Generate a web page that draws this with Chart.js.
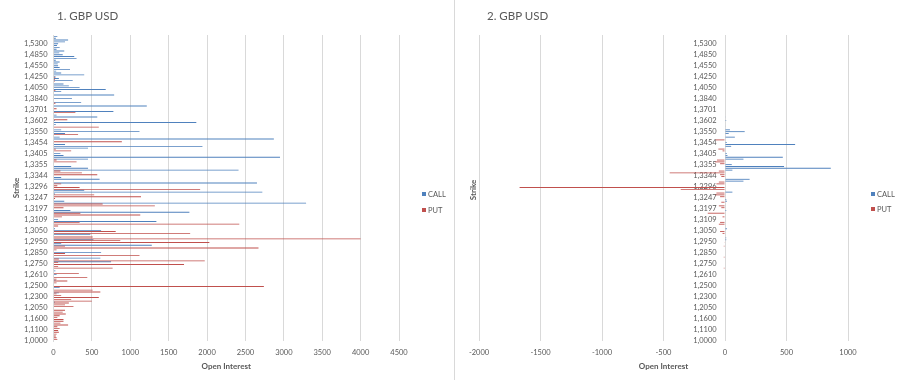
<!DOCTYPE html>
<html>
<head>
<meta charset="utf-8">
<script src="https://cdn.jsdelivr.net/npm/chart.js@4.4.1/dist/chart.umd.min.js"></script>
<style>
  html, body { margin: 0; padding: 0; background: #ffffff; }
  #wrap { position: relative; width: 900px; height: 380px; overflow: hidden; background: #fff; font-family: Lato, "Open Sans", sans-serif; color: #595959; }
  canvas { position: absolute; top: 0; }
  #c1 { left: 0; }
  #c2 { left: 454px; }
  .sep { position: absolute; left: 454px; top: 0; width: 1px; height: 380px; background: #d9d9d9; }
  .title { position: absolute; font-size: 11.5px; line-height: 14px; white-space: nowrap; }
  .leg { position: absolute; font-size: 7.5px; line-height: 9px; white-space: nowrap; }
  .leg i { display: inline-block; width: 4px; height: 4px; margin-right: 2px; vertical-align: 1px; }
  .ytitle { position: absolute; font-size: 8px; font-weight: bold; line-height: 10px; transform: rotate(-90deg); transform-origin: center center; white-space: nowrap; }
</style>
</head>
<body>
<div id="wrap">
  <canvas id="c1" width="452" height="380"></canvas>
  <canvas id="c2" width="446" height="380"></canvas>
  <div class="sep"></div>
  <div class="title" id="t1" style="left:57px; top:9px;"></div>
  <div class="title" id="t2" style="left:487px; top:9px;"></div>
  <div class="ytitle" id="ys2" style="left:458px; top:185px; width:30px; text-align:center;"></div>
  <div class="leg" style="left:422px; top:190px;"><i style="background:#4F81BD"></i><span class="lc"></span></div>
  <div class="leg" style="left:422px; top:206px;"><i style="background:#C0504D"></i><span class="lp"></span></div>
  <div class="leg" style="left:871px; top:189.5px;"><i style="background:#4F81BD"></i><span class="lc"></span></div>
  <div class="leg" style="left:871px; top:205px;"><i style="background:#C0504D"></i><span class="lp"></span></div>
</div>
<script>
// ---------------- data ----------------
const chartTitles = ["1. GBP USD", "2. GBP USD"];
const seriesNames = ["CALL", "PUT"];
const axisTitleX = "Open Interest";
const axisTitleY = "Strike";

// visible strike labels (top to bottom); one label every 6 categories
const strikeTicks = ["1,5300","1,4850","1,4550","1,4250","1,4050","1,3840","1,3701","1,3602",
  "1,3550","1,3454","1,3405","1,3355","1,3344","1,3296","1,3247","1,3197","1,3109","1,3050",
  "1,2950","1,2850","1,2750","1,2610","1,2500","1,2300","1,2050","1,1600","1,1100","1,0000"];
const categoriesPerTick = 6;
const hiddenTop = 4;

// Chart 1 (values top to bottom, 167 strikes)
const call1 = [
  50,30,190,150,60,45,80,40,140,75,
  120,270,300,30,80,55,60,80,215,35,
  100,400,25,70,250,0,130,200,340,680,
  100,0,790,0,240,0,360,0,1215,0,
  0,780,0,40,570,0,20,1860,30,0,
  0,100,1120,150,0,80,2870,0,0,150,
  1940,450,0,0,90,130,2950,450,0,0,
  0,230,450,2410,0,0,0,100,600,0,
  2650,0,0,0,400,2720,20,0,0,0,
  140,3290,0,0,0,220,1770,0,0,0,
  60,1340,0,0,0,20,620,0,480,0,
  0,520,0,100,1280,0,0,0,620,0,
  0,610,0,750,0,0,0,0,25,0,
  40,0,0,30,0,0,0,80,0,0,
  70,0,0,0,0,20,0,0,0,0,
  0,0,0,0,0,0,0,0,0,0,
  0,0,0,0,0,0,0];
const put1 = [
  0,0,0,0,0,0,0,0,0,0,
  0,0,0,0,0,0,0,0,0,0,
  0,0,0,25,20,15,0,0,0,0,
  25,0,0,0,0,0,0,25,0,0,
  40,0,285,0,0,0,180,0,0,0,
  590,0,0,0,320,0,0,0,890,0,
  0,0,30,230,0,0,0,0,40,300,
  0,0,0,0,90,370,570,0,0,0,
  0,100,50,340,1910,0,0,530,1140,20,
  0,0,640,1320,130,0,0,350,1130,110,
  0,0,340,2420,60,0,0,810,1780,0,
  510,4000,870,2030,0,150,2670,40,0,150,
  1120,0,70,1970,60,1700,60,770,0,0,
  330,0,440,40,180,40,0,2740,0,510,
  610,40,100,590,230,500,200,150,260,0,
  150,120,160,80,50,130,130,90,190,50,
  80,60,70,40,30,40,50];

// Chart 2 (values top to bottom, 167 strikes)
const call2 = [
  0,0,0,0,0,0,0,0,0,0,
  0,0,0,0,0,0,0,0,0,0,
  0,0,0,0,0,0,0,0,0,0,
  0,0,0,0,0,0,0,0,0,0,
  0,0,0,0,5,0,10,0,0,5,
  0,40,160,30,0,80,0,0,15,570,
  50,0,0,0,15,20,470,150,0,0,
  55,480,860,60,0,0,0,0,200,150,
  0,0,0,0,0,60,0,0,0,10,
  15,0,0,0,0,10,0,0,0,0,
  0,0,0,0,0,15,0,0,0,0,
  10,10,0,0,0,0,0,0,0,0,
  0,0,0,0,0,0,0,0,0,0,
  0,0,0,0,0,0,0,0,0,0,
  0,0,0,0,0,0,0,0,0,0,
  0,0,0,0,0,0,0,0,0,0,
  0,0,0,0,0,0,0];
const put2 = [
  0,0,0,0,0,0,0,0,0,0,
  0,0,0,0,0,0,0,0,0,0,
  0,0,0,0,0,0,0,0,0,0,
  0,0,0,0,0,0,0,0,0,0,
  0,0,0,0,0,0,0,0,0,0,
  0,0,0,0,0,0,0,-76,0,0,
  0,0,-54,-20,0,0,0,0,-65,-80,
  -40,0,0,0,-50,-450,-40,-30,0,0,
  -50,-70,0,-1670,-360,0,-70,-80,-40,0,
  0,-30,0,-50,-30,0,0,-140,0,-20,
  0,0,-40,-50,0,0,0,-40,-20,0,
  0,0,0,-5,0,-10,0,0,0,0,
  0,-10,0,0,0,0,0,-10,0,0,
  0,0,0,0,0,0,0,0,0,0,
  0,0,0,0,0,0,0,0,0,0,
  0,0,0,0,0,0,0,0,0,0,
  0,0,0,0,0,0,0];

const xTicks1 = {min: 0, max: 4500, step: 500};
const xTicks2 = {min: -2000, max: 1000, step: 500};

// ---------------- build ----------------
const nCat = call1.length;
const categories = [];
for (let i = 0; i < nCat; i++) {
  const k = i - hiddenTop;
  categories.push(k >= 0 && k % categoriesPerTick === 0 ? strikeTicks[k / categoriesPerTick] : "");
}

document.getElementById('t1').textContent = chartTitles[0];
document.getElementById('t2').textContent = chartTitles[1];
document.getElementById('ys2').textContent = axisTitleY;
document.querySelectorAll('.lc').forEach(e => e.textContent = seriesNames[0]);
document.querySelectorAll('.lp').forEach(e => e.textContent = seriesNames[1]);

const TXT = '#595959';
const GRID = '#d9d9d9';
const tickFont = {family: 'Lato', size: 7.5};
const titleFont = {family: 'Lato', size: 8, weight: 'bold'};

function makeDatasets(callArr, putArr) {
  return [
    {label: seriesNames[1], data: putArr, backgroundColor: '#C0504D', borderWidth: 0, inflateAmount: 0,
     categoryPercentage: 1, barPercentage: 0.95},
    {label: seriesNames[0], data: callArr, backgroundColor: '#4F81BD', borderWidth: 0, inflateAmount: 0,
     categoryPercentage: 1, barPercentage: 0.95}
  ];
}

function xScale(t) {
  return {
    type: 'linear', position: 'bottom', min: t.min, max: t.max,
    ticks: {stepSize: t.step, color: TXT, font: tickFont, padding: 7, callback: v => String(v)},
    grid: {color: GRID, lineWidth: 1, drawTicks: false},
    border: {display: false},
    title: {display: true, text: axisTitleX, color: TXT, font: titleFont, padding: {top: 0, bottom: 9}},
    afterFit: s => { s.height = 39; }
  };
}

const common = {
  responsive: false, animation: false, devicePixelRatio: 1, indexAxis: 'y',
  plugins: {legend: {display: false}, tooltip: {enabled: false}, title: {display: false}}
};

new Chart(document.getElementById('c1'), {
  type: 'bar',
  data: {labels: categories, datasets: makeDatasets(call1, put1)},
  options: Object.assign({}, common, {
    layout: {padding: {left: 0, right: 53, top: 35, bottom: 0}},
    scales: {
      x: xScale(xTicks1),
      y: {
        type: 'category', position: 'left',
        grid: {display: false, drawTicks: false},
        border: {display: true, color: GRID, width: 1},
        ticks: {autoSkip: false, color: TXT, font: tickFont, padding: 6},
        title: {display: true, text: axisTitleY, color: TXT, font: titleFont, padding: {top: 12, bottom: 0}},
        afterFit: s => { s.width = 53.5; }
      }
    }
  })
});

new Chart(document.getElementById('c2'), {
  type: 'bar',
  data: {labels: categories, datasets: makeDatasets(call2, put2)},
  options: Object.assign({}, common, {
    layout: {padding: {left: 25, right: 52, top: 35, bottom: 0}},
    scales: {
      x: xScale(xTicks2),
      y: {
        type: 'category', position: {x: -68},
        grid: {display: false, drawTicks: false},
        border: {display: false},
        ticks: {autoSkip: false, color: TXT, font: tickFont, padding: 0},
        title: {display: false}
      }
    }
  })
});
</script>
</body>
</html>
